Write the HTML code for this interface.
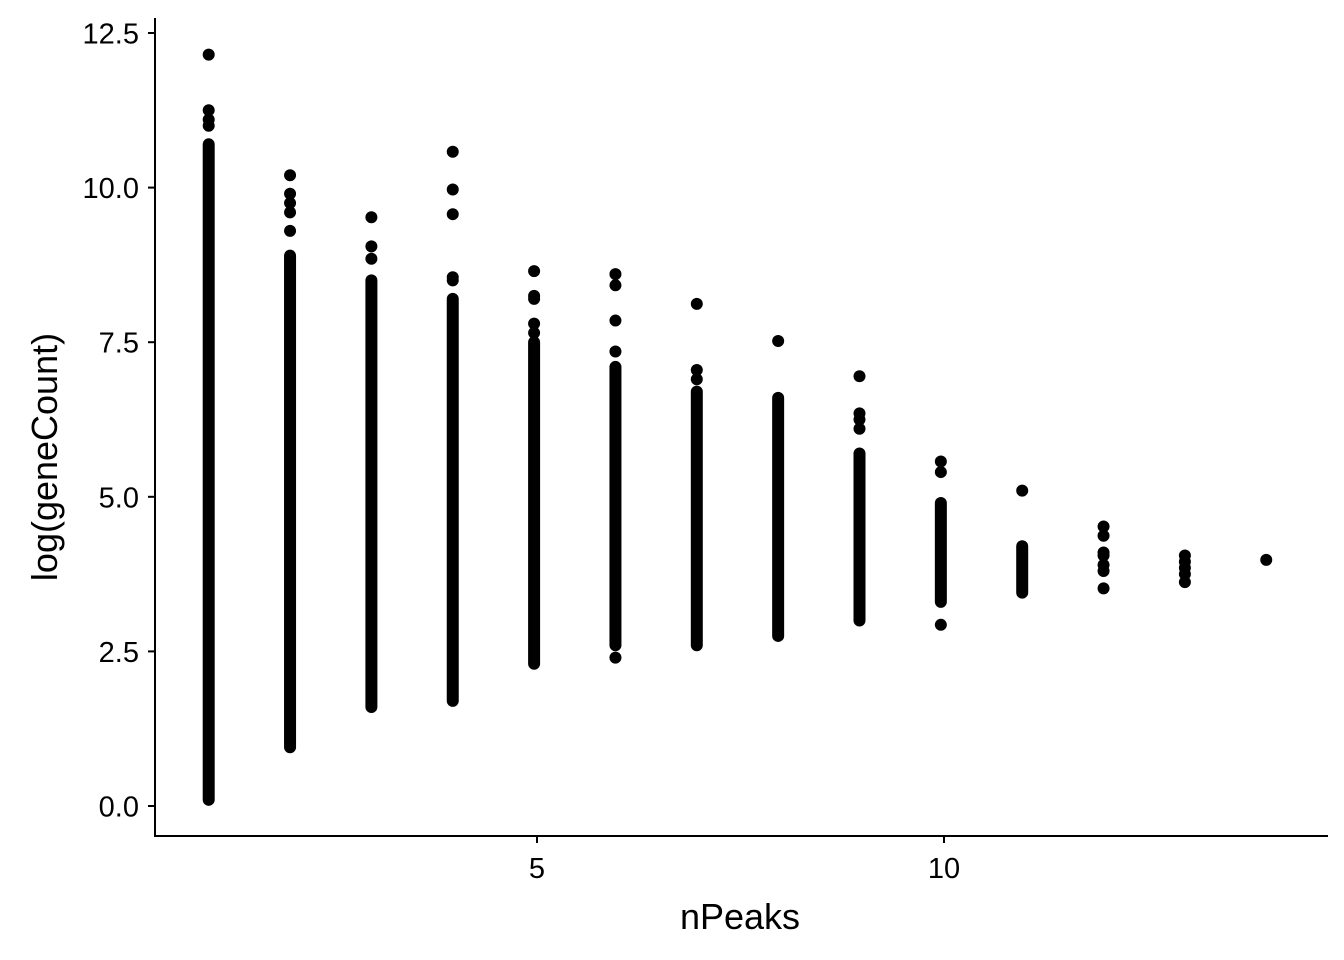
<!DOCTYPE html>
<html><head><meta charset="utf-8">
<style>
body{margin:0;background:#fff;}
svg{display:block;font-family:"Liberation Sans",Arial,sans-serif;}
</style></head>
<body>
<svg id="chart" width="1344" height="960" viewBox="0 0 1344 960" xmlns="http://www.w3.org/2000/svg">
<g id="marks"></g>
<g id="axes"></g>
</svg>
<script>
const categories = [1,2,3,4,5,6,7,8,9,10,11,12,13,14];
const denseLow  = [0.1,0.95,1.6,1.7,2.3,2.6,2.6,2.75,3.0,3.3,3.45,null,null,null];
const denseHigh = [10.7,8.9,8.5,8.2,7.5,7.1,6.7,6.6,5.7,4.9,4.2,null,null,null];
const outlierX = [1,1,1,1, 2,2,2,2,2, 3,3,3, 4,4,4,4,4, 5,5,5,5,5, 6,6,6,6,6, 7,7,7, 8, 9,9,9,9, 10,10,10, 11, 12,12,12,12,12,12,12, 13,13,13,13,13, 14];
const outlierY = [11.0,11.1,11.25,12.15, 9.3,9.6,9.75,9.9,10.2, 8.85,9.05,9.52, 8.5,8.55,9.57,9.97,10.58, 7.65,7.8,8.2,8.25,8.65, 2.4,7.35,7.85,8.42,8.6, 6.9,7.05,8.12, 7.52, 6.1,6.25,6.35,6.95, 2.93,5.4,5.57, 5.1, 3.52,3.8,3.9,4.05,4.1,4.37,4.52, 3.62,3.75,3.85,3.95,4.05, 3.98];
const xTicks = [5,10];
const yTicks = [0,2.5,5,7.5,10,12.5];
const yTickLabels = ["0.0","2.5","5.0","7.5","10.0","12.5"];

const NS="http://www.w3.org/2000/svg";
const xs = v => 208.7 + 81.35*(v-1);
const ys = v => 806 - 61.84*v;
const marks=document.getElementById('marks');
const axes=document.getElementById('axes');
function mk(tag,attrs,parent){const e=document.createElementNS(NS,tag);for(const k in attrs)e.setAttribute(k,attrs[k]);parent.appendChild(e);return e;}

categories.forEach((c,i)=>{
  if(denseLow[i]==null) return;
  const l=mk('line',{x1:xs(c),x2:xs(c),y1:ys(denseLow[i]),y2:ys(denseHigh[i]),stroke:'#000','stroke-width':12,'stroke-linecap':'round'},marks);
  
  
});
outlierX.forEach((x,i)=>{
  const p=mk('circle',{cx:xs(x),cy:ys(outlierY[i]),r:6,fill:'#000'},marks);
  
  
});

const ya=mk('line',{x1:155,x2:155,y1:18,y2:836,stroke:'#000','stroke-width':2},axes);


const xa=mk('line',{x1:154,x2:1328,y1:836,y2:836,stroke:'#000','stroke-width':2},axes);



yTicks.forEach((v,i)=>{
  mk('line',{x1:148,x2:155,y1:ys(v),y2:ys(v),stroke:'#000','stroke-width':2},axes);
  const t=mk('text',{x:139,y:ys(v)+10.5,'text-anchor':'end','font-size':29,fill:'#000'},axes);
  t.textContent=yTickLabels[i];
  
  
});
xTicks.forEach(v=>{
  const px=537+(v-5)*81.4;
  mk('line',{x1:px,x2:px,y1:836,y2:843,stroke:'#000','stroke-width':2},axes);
  const t=mk('text',{x:px,y:878,'text-anchor':'middle','font-size':29,fill:'#000'},axes);
  t.textContent=v;
  
  
});
const xt=mk('text',{x:740,y:929,'text-anchor':'middle','font-size':36,fill:'#000'},axes);
xt.textContent='nPeaks';


const yt=mk('text',{x:0,y:0,'text-anchor':'middle','font-size':36,fill:'#000',transform:'translate(57,457) rotate(-90)'},axes);
yt.textContent='log(geneCount)';


</script>
</body></html>
